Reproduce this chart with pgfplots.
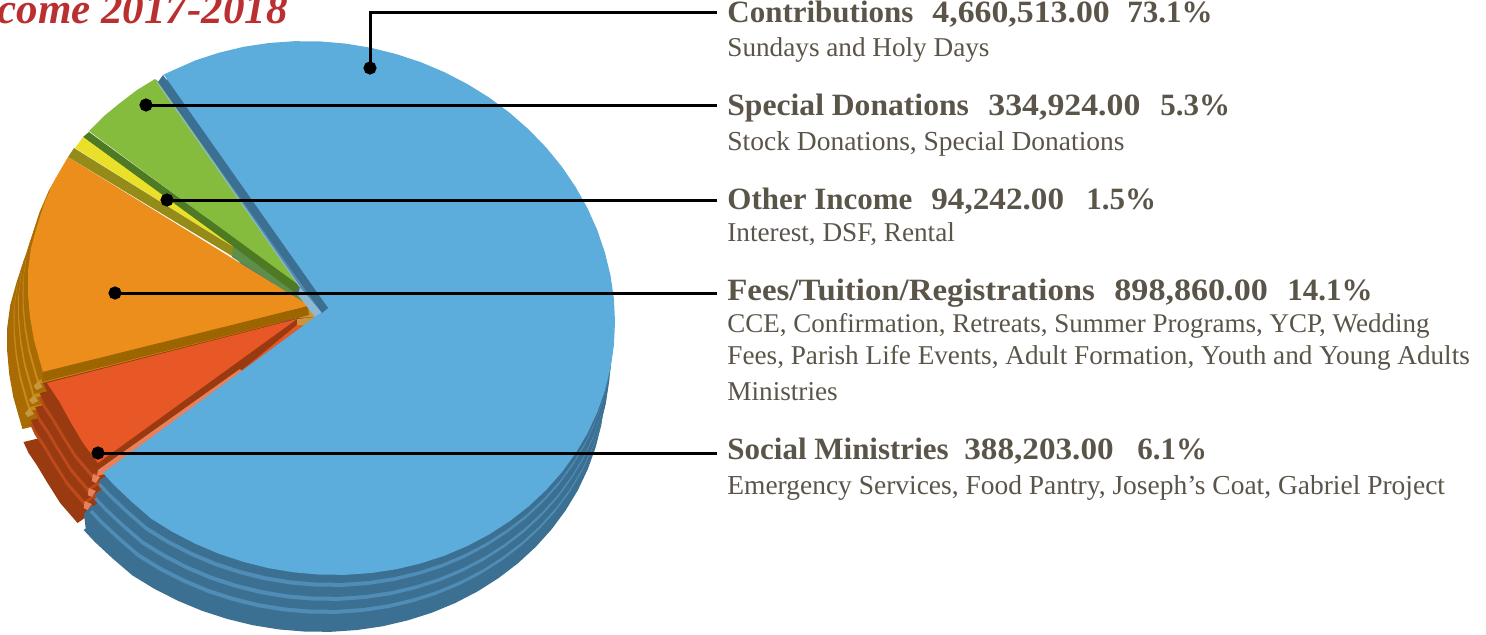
\documentclass[border=0pt]{standalone}
\usepackage{graphicx}
\usepackage{pgfplots}
\usepackage{pgfplotstable}
\usepackage{fontspec}
\setmainfont{Liberation Serif}
\pgfplotsset{compat=1.18}
\definecolor{cblue}{HTML}{5CADDC}
\definecolor{cblueD}{HTML}{3C7093}
\definecolor{cblueL}{HTML}{4F8DB6}
\definecolor{cblueP}{HTML}{8FB8D3}
\definecolor{cgreen}{HTML}{85BC3D}
\definecolor{cgreenD}{HTML}{4D7A22}
\definecolor{cgreenM}{HTML}{5D8F4B}
\definecolor{cyellow}{HTML}{EBE029}
\definecolor{colive}{HTML}{958B18}
\definecolor{corange}{HTML}{EC8E1C}
\definecolor{corangeD}{HTML}{9C6500}
\definecolor{corangeR}{HTML}{A96C05}
\definecolor{corangeL}{HTML}{C88A18}
\definecolor{cred}{HTML}{E85726}
\definecolor{credD}{HTML}{9A3A10}
\definecolor{credL}{HTML}{BC4A1C}
\definecolor{csalmon}{HTML}{E9805A}
\definecolor{ctan}{HTML}{C8963C}
\definecolor{ctext}{HTML}{5A5449}
\definecolor{ctitle}{HTML}{BA2F30}
\pgfplotstableread{
x y
163.7 74.5
195.3 60.4
219.1 52.7
243.6 46.8
268.8 43.0
294.3 41.2
320 41.4
345.7 43.6
371.2 47.8
396.4 54.1
420.9 62.2
444.7 72.3
467.5 84.1
489.2 97.6
509.6 112.7
528.6 129.4
546.0 147.3
561.7 166.5
575.5 186.8
587.4 208.0
597.2 229.9
604.9 252.5
610.5 275.5
613.9 298.7
615 322.0
613.9 345.2
610.5 368.1
604.9 390.5
597.2 412.3
587.4 433.4
575.5 453.4
561.7 472.4
546.0 490.1
528.6 506.4
509.6 521.2
489.2 534.4
467.5 545.9
444.7 555.6
420.9 563.3
396.4 569.2
371.2 573.0
345.7 574.8
320 574.6
294.3 572.4
268.8 568.2
243.6 561.9
219.1 553.8
195.3 543.7
172.5 531.9
150.8 518.4
132 502
114 485
103 473
315 317
328 308
}\tblue
\pgfplotstableread{
x y
68 157
53 183
44 204
37 226
31 248
28 271
28 294
30 317
34 340
39 358
43 372
308 307
308 305
}\torange
\pgfplotstableread{
x y
44 385
49 396
57 408
67 425
80 446
97 466
300 322
}\tred
\pgfplotstableread{
x y
97 466
104 469
100 475
96 473
}\tredtip
\pgfplotstableread{
x y
43 373
47 379
41 382
38 378
}\torangetip
\newcommand{\shifted}[5]{% table, dx, dy, colour, widening
  \addplot[fill=#4,draw=none,no marks] table[x expr=320+(\thisrow{x}-320)*#5+#2,y expr=\thisrow{y}+#3] {#1} --cycle;}
\newcommand{\ringset}[3]{%
  \shifted{#1}{-15}{57}{#2}{1.02}
  \shifted{#1}{-10}{39}{#3}{1.015}
  \shifted{#1}{-9}{35}{#2}{1.015}
  \shifted{#1}{-7}{26}{#3}{1.01}
  \shifted{#1}{-6}{22}{#2}{1.01}
  \shifted{#1}{-4}{12}{#3}{1.005}
  \shifted{#1}{-3}{8}{#2}{1.005}}
\newcommand{\lab}[3]{\node[anchor=base west,text=ctext,inner sep=0pt,font=\fontsize{#3}{16}\selectfont] at (axis cs:727,#1) {#2};}
\newcommand{\bold}[2]{\node[anchor=base west,text=ctext,inner sep=0pt,font=\bfseries\fontsize{15.5}{18}\selectfont] at (axis cs:727,#1) {#2};}
\newcommand{\wide}[2]{\scalebox{#1}[1]{#2}}
\begin{document}
\begin{tikzpicture}
\clip (0,0) rectangle (743pt,317pt);
\begin{axis}[scale only axis,width=743pt,height=317pt,at={(0,0)},anchor=south west,
  xmin=0,xmax=1486,ymin=0,ymax=634,y dir=reverse,hide axis,clip=false]
% rings, back to front
\ringset{\torange}{corangeR}{corangeL}
\ringset{\tred}{credD}{credL}
\shifted{\tredtip}{-9}{35}{csalmon}{1.015}
\shifted{\tredtip}{-6}{22}{csalmon}{1.01}
\shifted{\tredtip}{-3}{8}{csalmon}{1.005}
\shifted{\torangetip}{-9}{35}{ctan}{1.015}
\shifted{\torangetip}{-6}{22}{ctan}{1.01}
\shifted{\torangetip}{-3}{8}{ctan}{1.005}
\addplot[fill=cblueD,draw=none,no marks] coordinates {(86,531)(84,514)(92,505)(125,535)} --cycle;
\ringset{\tblue}{cblueD}{cblueL}
% apex patches
\addplot[fill=ctan,draw=none,no marks] coordinates {(295,293)(322,313)(315,319)(297,325)(290,318)} --cycle;
% green
\addplot[fill=cgreen,draw=none,no marks] coordinates {(158,81)(155,79)(137,90)(120,103)(104,116)(89,131)(300,287)} --cycle;
\addplot[fill=cgreenD,draw=none,no marks] coordinates {(89,132)(300,286)(295,293)(83,137)} --cycle;
\addplot[fill=cgreenM,draw=none,no marks] coordinates {(230,244)(295,293)(306,304)(232,257)} --cycle;
% yellow
\addplot[fill=cyellow,draw=none,no marks] coordinates {(83,137)(75,148)(233,247)(231,245)} --cycle;
\addplot[fill=colive,draw=none,no marks] coordinates {(74,148)(233,247)(232,256)(68,157)} --cycle;
% orange
\addplot[fill=corange,draw=none,no marks] table[x=x,y=y] {\torange} --cycle;
\addplot[fill=corangeD,draw=none,no marks] coordinates {(43,372)(308,306)(309,315)(42,382)} --cycle;
% red
\addplot[fill=credD,draw=none,no marks] coordinates {(43,383)(53,403)(64,424)(77,447)(96,474)(315,317)(298,318)} --cycle;
\addplot[fill=cred,draw=none,no marks] coordinates {(47,383)(59,401)(70,421)(83,443)(98,463)(297,319)} --cycle;
\addplot[fill=cred,draw=none,no marks] coordinates {(240,372)(297,325)(315,317)} --cycle;
\addplot[fill=csalmon,draw=none,no marks] coordinates {(98,470)(240,369)(242,371)(105,474)(97,476)} --cycle;
\addplot[fill=ctan,draw=none,no marks] coordinates {(297,319)(315,317)(305,325)(297,325)} --cycle;
% blue
\addplot[fill=cblueP,draw=none,no marks] coordinates {(300,287)(322,313)(315,317)(298,295)} --cycle;
\addplot[fill=cblue,draw=none,no marks] table[x=x,y=y] {\tblue} --cycle;
\addplot[fill=cblueD,draw=none,no marks] coordinates {(163,75)(328,308)(322,313)(158,82)} --cycle;
\addplot[draw=cblueP,line width=0.5pt,no marks] coordinates {(157,82)(300,287)};
% leaders
\addplot[black,line width=1.5pt,mark=*,mark size=2.5pt,mark indices={1},mark options={fill=black}] coordinates {(370,68)(370,12)(717,12)};
\addplot[black,line width=1.5pt,mark=*,mark size=2.5pt,mark indices={1},mark options={fill=black}] coordinates {(146,105)(717,105)};
\addplot[black,line width=1.5pt,mark=*,mark size=2.5pt,mark indices={1},mark options={fill=black}] coordinates {(167,200)(717,200)};
\addplot[black,line width=1.5pt,mark=*,mark size=2.5pt,mark indices={1},mark options={fill=black}] coordinates {(115,293)(717,293)};
\addplot[black,line width=1.5pt,mark=*,mark size=2.5pt,mark indices={1},mark options={fill=black}] coordinates {(98,453)(717,453)};
% title
\node[anchor=base east,text=ctitle,inner sep=0pt,font=\bfseries\itshape\fontsize{21.5}{24}\selectfont] at (axis cs:288,23) {come 2017-2018};
% text
\bold{22}{\makebox[102.5pt][l]{Contributions}\makebox[97.5pt][l]{\wide{1.09}{4,660,513.00}}73.1\%}
\lab{56}{Sundays and Holy Days}{13.6}
\bold{115}{\makebox[130.5pt][l]{\wide{1.02}{Special Donations}}\makebox[86pt][l]{\wide{1.09}{334,924.00}}5.3\%}
\lab{150}{Stock Donations, Special Donations}{13.75}
\bold{209}{\makebox[102pt][l]{Other Income}\makebox[77.5pt][l]{\wide{1.07}{94,242.00}}1.5\%}
\lab{241}{Interest, DSF, Rental}{13.6}
\bold{300}{\makebox[193.5pt][l]{\wide{1.06}{Fees/Tuition/Registrations}}\makebox[86.5pt][l]{\wide{1.1}{898,860.00}}14.1\%}
\lab{332}{CCE, Confirmation, Retreats, Summer Programs, YCP, Wedding}{13.5}
\lab{364}{Fees, Parish Life Events, Adult Formation, Youth and Young Adults}{13.6}
\lab{400}{Ministries}{13.6}
\bold{459}{\makebox[118.5pt][l]{Social Ministries}\makebox[86.5pt][l]{\wide{1.07}{388,203.00}}6.1\%}
\lab{494}{Emergency Services, Food Pantry, Joseph’s Coat, Gabriel Project}{13.73}
\end{axis}
\end{tikzpicture}
\end{document}
